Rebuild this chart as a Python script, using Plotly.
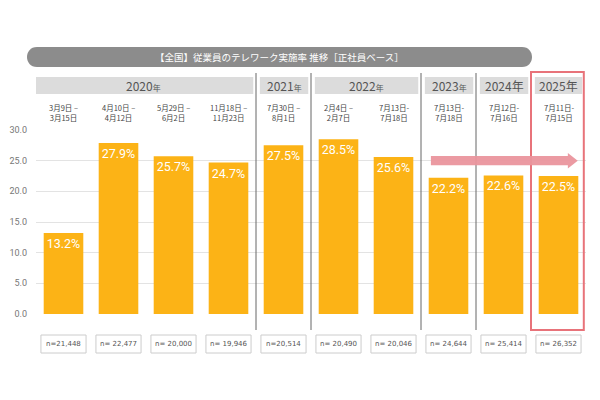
import plotly.graph_objects as go

# ---- data ----
date_labels = ["3月9日 –<br>3月15日", "4月10日 –<br>4月12日", "5月29日 –<br>6月2日",
               "11月18日 –<br>11月23日", "7月30日 –<br>8月1日", "2月4日 –<br>2月7日",
               "7月13日-<br>7月18日", "7月13日-<br>7月18日", "7月12日-<br>7月16日",
               "7月11日-<br>7月15日"]
rates = [13.2, 27.9, 25.7, 24.7, 27.5, 28.5, 25.6, 22.2, 22.6, 22.5]
n_labels = ["n=21,448", "n= 22,477", "n= 20,000", "n= 19,946", "n=20,514",
            "n= 20,490", "n= 20,046", "n= 24,644", "n= 25,414", "n= 26,352"]
years = ["2020", "2021", "2022", "2023", "2024", "2025"]
year_suffix_small = [True, True, True, True, False, False]
year_start = [0, 4, 5, 7, 8, 9]
year_end = [3, 4, 6, 7, 8, 9]
y_ticks = [0, 5, 10, 15, 20, 25, 30]
title = "【全国】従業員のテレワーク実施率 推移［正社員ベース］"

JP = "Noto Sans CJK JP"
BAR = "#FCB316"
W, H = 600, 400

def py(p):  # pixel y -> paper y
    return 1 - p / H

def px(p):
    return p / W

x = list(range(len(rates)))

fig = go.Figure(go.Bar(
    x=x, y=rates,
    marker=dict(color=BAR, line=dict(width=0)),
    text=[f"{v}%" for v in rates],
    textposition="inside", insidetextanchor="end",
    textfont=dict(color="white", size=13.5, family="Roboto"),
    textangle=0, cliponaxis=False,
    width=0.72,
))

shapes = []
annotations = []

def ann(**kw):
    kw.setdefault("showarrow", False)
    kw.setdefault("xanchor", "center")
    kw.setdefault("yanchor", "middle")
    annotations.append(kw)

# title bar (rounded)
x0, x1 = px(27), px(532)
yt, yb = py(47), py(67)
r = px(10)
k = r * 4 / 3
path = (f"M {x0+r},{yt} L {x1-r},{yt} C {x1-r+k},{yt} {x1-r+k},{yb} {x1-r},{yb} "
        f"L {x0+r},{yb} C {x0+r-k},{yb} {x0+r-k},{yt} {x0+r},{yt} Z")
shapes.append(dict(type="path", xref="paper", yref="paper", path=path,
                   fillcolor="#8c8c8c", line=dict(width=0)))
ann(xref="paper", yref="paper", x=px(279), y=py(57), text=title,
    font=dict(family=JP, size=9.5, color="white"))

# year headers
for i, yr in enumerate(years):
    s, e = year_start[i], year_end[i]
    a = s - 0.43 if s > 0 else -0.55
    b = e + 0.45 if e < 9 else e + 0.43
    shapes.append(dict(type="rect", xref="x", yref="paper", x0=a, x1=b,
                       y0=py(94), y1=py(77), fillcolor="#dcdcdc", line=dict(width=0),
                       layer="below"))
    if year_suffix_small[i]:
        t = f"{yr}<span style='font-size:8px'>年</span>"
    else:
        t = f"{yr}年"
    ann(xref="x", yref="paper", x=(a + b) / 2, y=py(86), text=t,
        font=dict(family=JP, size=12, color="#555555"))

# date labels
for i, d in enumerate(date_labels):
    ann(xref="x", yref="paper", x=i, y=py(113), text=d,
        font=dict(family=JP, size=7.5, color="#444444"))

# separators
for s in [3.5, 4.5, 6.5, 7.5]:
    shapes.append(dict(type="line", xref="x", yref="paper", x0=s, x1=s,
                       y0=py(73), y1=py(330), line=dict(color="#666666", width=1)))

# red highlight box
shapes.append(dict(type="rect", xref="x", yref="paper", x0=8.5, x1=9.46,
                   y0=py(330), y1=py(72), line=dict(color="#E8737A", width=2)))

# arrow (at y=25)
ax0, axh, axt = 6.68, 9.17, 9.35
sh, hh = 0.76, 1.27
apath = (f"M {ax0},{25-sh} L {axh},{25-sh} L {axh},{25-hh} L {axt},25 "
         f"L {axh},{25+hh} L {axh},{25+sh} L {ax0},{25+sh} Z")
shapes.append(dict(type="path", xref="x", yref="y", path=apath,
                   fillcolor="#EA959D", line=dict(width=0), opacity=0.95))

# n boxes
for i, n in enumerate(n_labels):
    shapes.append(dict(type="rect", xref="x", yref="paper", x0=i - 0.41, x1=i + 0.41,
                       y0=py(353), y1=py(335), fillcolor="white",
                       line=dict(color="#cccccc", width=1)))
    ann(xref="x", yref="paper", x=i, y=py(344), text=n,
        font=dict(family="Verdana, DejaVu Sans", size=7, color="#555555"))

fig.update_layout(
    width=W, height=H, margin=dict(l=0, r=0, t=0, b=0),
    paper_bgcolor="white", plot_bgcolor="white",
    showlegend=False, bargap=0.28,
    shapes=shapes, annotations=annotations,
    xaxis=dict(range=[-0.5, 9.5], domain=[px(36), px(586)], showticklabels=False,
               showgrid=False, zeroline=False, showline=False, fixedrange=True),
    yaxis=dict(range=[0, 30], domain=[py(314), py(130)], tickvals=y_ticks,
               tickformat=".1f", showgrid=True, gridcolor="#e3e3e3", gridwidth=1,
               zeroline=False, showline=False, ticks="", automargin=False,
               ticklabelstandoff=8, fixedrange=True,
               tickfont=dict(family="Roboto", size=9, color="#777777")),
)

fig.write_html("out.html", config={"displayModeBar": False},
               post_script="document.body.style.margin='0';")
